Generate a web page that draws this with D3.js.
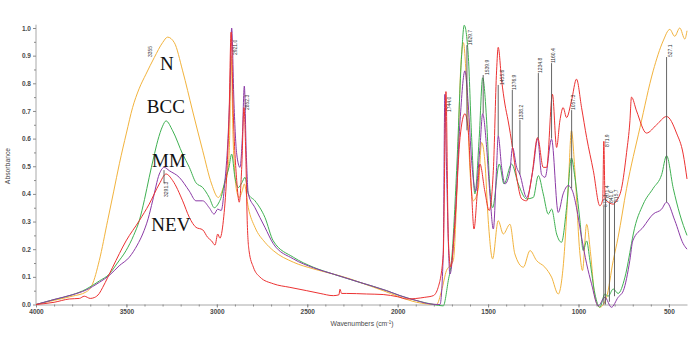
<!DOCTYPE html>
<html>
<head>
<meta charset="utf-8">
<script src="https://cdn.jsdelivr.net/npm/d3@7"></script>
<style>
  body { margin: 0; background: #fff; }
</style>
</head>
<body>
<div id="chart"></div>
<script>
// [wavenumber, absorbance]
const nSpectrum = [
  [4000, 0.0], [3900, 0.015], [3800, 0.03], [3724, 0.045], [3690, 0.07], [3650, 0.159],
  [3604, 0.303], [3570, 0.41], [3539, 0.509], [3500, 0.62], [3466, 0.712], [3430, 0.78],
  [3392, 0.833], [3346, 0.893], [3300, 0.947], [3272, 0.967], [3235, 0.947], [3189, 0.845],
  [3134, 0.70], [3078, 0.556], [3029, 0.436], [2992, 0.387], [2964, 0.423], [2940, 0.48],
  [2930, 0.58], [2921, 0.9], [2910, 0.6], [2890, 0.41], [2876, 0.387], [2860, 0.41],
  [2848, 0.436], [2826, 0.35], [2789, 0.279], [2734, 0.225], [2688, 0.195], [2577, 0.153],
  [2467, 0.129], [2356, 0.11], [2264, 0.093], [2209, 0.08], [2080, 0.05], [2000, 0.03],
  [1895, 0.008], [1785, 0.0], [1757, 0.05], [1730, 0.123], [1711, 0.14], [1692, 0.16],
  [1674, 0.38], [1652, 0.845], [1637, 0.947], [1618, 0.785], [1600, 0.484], [1582, 0.375],
  [1554, 0.42], [1536, 0.586], [1518, 0.52], [1499, 0.303], [1475, 0.165], [1444, 0.303],
  [1416, 0.255], [1379, 0.29], [1352, 0.183], [1305, 0.135], [1268, 0.195], [1232, 0.159],
  [1186, 0.135], [1149, 0.099], [1112, 0.038], [1085, 0.135], [1057, 0.42], [1039, 0.628],
  [1020, 0.484], [992, 0.183], [978, 0.123], [955, 0.29], [933, 0.183], [909, 0.026],
  [882, -0.01], [845, 0.026], [808, 0.159], [781, 0.243], [734, 0.42], [660, 0.64],
  [587, 0.845], [532, 0.953], [495, 0.995], [468, 0.97], [440, 1.0], [412, 0.96], [400, 0.99]
];

const bccSpectrum = [
  [4000, 0.0], [3900, 0.018], [3800, 0.035], [3724, 0.055], [3650, 0.085], [3595, 0.11],
  [3550, 0.15], [3502, 0.195], [3460, 0.25], [3429, 0.303], [3400, 0.38], [3374, 0.46],
  [3350, 0.53], [3327, 0.592], [3300, 0.645], [3281, 0.664], [3244, 0.628], [3189, 0.544],
  [3152, 0.496], [3115, 0.44], [3078, 0.423], [3042, 0.387], [3014, 0.35], [2990, 0.367],
  [2975, 0.39], [2955, 0.448], [2933, 0.496], [2918, 0.544], [2900, 0.46], [2881, 0.423],
  [2862, 0.44], [2844, 0.46], [2826, 0.40], [2789, 0.375], [2734, 0.315], [2688, 0.23],
  [2577, 0.171], [2467, 0.135], [2356, 0.11], [2209, 0.08], [2061, 0.05], [1987, 0.032],
  [1900, 0.015], [1800, 0.0], [1748, -0.005], [1720, 0.087], [1702, 0.159], [1674, 0.484],
  [1646, 0.905], [1632, 1.01], [1610, 0.905], [1591, 0.604], [1573, 0.40], [1549, 0.604],
  [1530, 0.82], [1508, 0.664], [1490, 0.42], [1475, 0.35], [1438, 0.508], [1412, 0.436],
  [1370, 0.508], [1333, 0.436], [1287, 0.382], [1250, 0.387], [1222, 0.466], [1195, 0.40],
  [1167, 0.327], [1149, 0.345], [1121, 0.255], [1094, 0.225], [1066, 0.35], [1039, 0.53],
  [1020, 0.46], [992, 0.303], [974, 0.195], [955, 0.23], [937, 0.159], [909, 0.038],
  [882, -0.01], [854, 0.038], [836, 0.03], [808, 0.056], [781, 0.04], [743, 0.099],
  [707, 0.22], [697, 0.255], [642, 0.363], [587, 0.42], [540, 0.47], [513, 0.538],
  [476, 0.42], [440, 0.327], [400, 0.25]
];

const mmSpectrum = [
  [4000, 0.0], [3900, 0.018], [3800, 0.035], [3724, 0.052], [3650, 0.08], [3595, 0.105],
  [3540, 0.14], [3484, 0.171], [3440, 0.215], [3410, 0.255], [3380, 0.31], [3355, 0.375],
  [3318, 0.472], [3291, 0.496], [3263, 0.484], [3208, 0.46], [3152, 0.41], [3115, 0.375],
  [3078, 0.375], [3042, 0.35], [3015, 0.327], [2995, 0.345], [2976, 0.34], [2955, 0.448],
  [2940, 0.58], [2927, 0.785], [2918, 1.0], [2905, 0.725], [2890, 0.544], [2872, 0.496],
  [2859, 0.604], [2848, 0.79], [2837, 0.544], [2826, 0.40], [2789, 0.35], [2734, 0.279],
  [2688, 0.22], [2577, 0.165], [2467, 0.133], [2356, 0.11], [2209, 0.08], [2061, 0.05],
  [1987, 0.032], [1900, 0.015], [1820, 0.002], [1766, 0.0], [1748, 0.18], [1739, 0.76],
  [1730, 0.5], [1711, 0.11], [1683, 0.303], [1655, 0.664], [1628, 0.845], [1610, 0.725],
  [1591, 0.52], [1569, 0.41], [1545, 0.568], [1530, 0.69], [1508, 0.568], [1490, 0.40],
  [1471, 0.273], [1453, 0.496], [1444, 0.61], [1425, 0.496], [1407, 0.436], [1379, 0.484],
  [1365, 0.568], [1342, 0.496], [1324, 0.47], [1287, 0.387], [1250, 0.496], [1226, 0.60],
  [1204, 0.47], [1185, 0.46], [1149, 0.598], [1112, 0.333], [1085, 0.40], [1057, 0.43],
  [1033, 0.41], [1011, 0.35], [983, 0.243], [955, 0.147], [928, 0.075], [891, -0.005],
  [854, 0.026], [818, -0.01], [781, 0.026], [752, 0.05], [716, 0.16], [700, 0.23],
  [642, 0.28], [587, 0.327], [540, 0.345], [513, 0.37], [467, 0.303], [421, 0.22], [400, 0.2]
];

const nevSpectrum = [
  [4000, 0.0], [3900, 0.008], [3816, 0.02], [3760, 0.022], [3733, 0.03], [3700, 0.022],
  [3678, 0.025], [3650, 0.04], [3631, 0.062], [3576, 0.135], [3502, 0.23], [3429, 0.303],
  [3374, 0.363], [3318, 0.436], [3281, 0.472], [3244, 0.448], [3189, 0.375], [3152, 0.315],
  [3115, 0.279], [3078, 0.27], [3051, 0.243], [3029, 0.23], [3010, 0.215], [2995, 0.255],
  [2983, 0.24], [2964, 0.303], [2946, 0.46], [2933, 0.664], [2921, 0.985], [2909, 0.69],
  [2890, 0.448], [2876, 0.37], [2862, 0.50], [2850, 0.712], [2840, 0.544], [2832, 0.303],
  [2822, 0.195], [2798, 0.135], [2761, 0.099], [2688, 0.075], [2596, 0.062], [2503, 0.05],
  [2429, 0.04], [2356, 0.032], [2325, 0.035], [2319, 0.055], [2310, 0.04], [2282, 0.04],
  [2172, 0.038], [2080, 0.036], [2000, 0.028], [1950, 0.02], [1850, 0.026], [1803, 0.032],
  [1776, 0.062], [1748, 0.18], [1733, 0.77], [1720, 0.24], [1707, 0.135], [1683, 0.30],
  [1655, 0.604], [1628, 0.69], [1610, 0.63], [1591, 0.40], [1578, 0.273], [1560, 0.40],
  [1545, 0.508], [1518, 0.41], [1494, 0.34], [1471, 0.484], [1453, 0.845], [1444, 0.93],
  [1425, 0.81], [1407, 0.725], [1389, 0.664], [1365, 0.568], [1342, 0.46], [1314, 0.382],
  [1287, 0.375], [1259, 0.46], [1226, 0.604], [1195, 0.496], [1176, 0.496], [1144, 0.76],
  [1121, 0.568], [1103, 0.664], [1085, 0.712], [1066, 0.676], [1039, 0.736], [1011, 0.815],
  [983, 0.712], [955, 0.604], [918, 0.484], [882, 0.357], [866, 0.38], [860, 0.59],
  [853, 0.38], [845, 0.375], [808, 0.363], [790, 0.375], [762, 0.42], [734, 0.55],
  [716, 0.66], [707, 0.75], [679, 0.70], [624, 0.62], [568, 0.65], [513, 0.68],
  [458, 0.62], [421, 0.544], [400, 0.454]
];

const seriesNames = ["N", "BCC", "MM", "NEV"];
const seriesLabelWn = [3277, 3282, 3265, 3254];
const seriesLabelAbs = [0.848, 0.691, 0.498, 0.266];

const xTicks = [4000, 3500, 3000, 2500, 2000, 1500, 1000, 500];
const yTicks = [0, 0.1, 0.2, 0.3, 0.4, 0.5, 0.6, 0.7, 0.8, 0.9, 1.0];

// peak annotations: label, text wavenumber, text bottom absorbance, line wavenumber, line start/end
const peakLabels = ["3355", "2921.0", "2852.3", "3291.3", "1744.0", "1629.7", "1539.9", "1455.6",
  "1376.9", "1338.2", "1234.8", "1160.4", "1057.3", "871.9", "872.1", "871.4", "841.0", "815.7", "527.1"];
const peakTextWn = [3367, 2900, 2832, 3281, 1715, 1600, 1508, 1425, 1357, 1318, 1213, 1140, 1029,
  845, 854, 841, 818, 793, 495];
const peakTextAbs = [0.895, 0.902, 0.703, 0.389, 0.696, 0.938, 0.83, 0.794, 0.776, 0.667, 0.837,
  0.873, 0.703, 0.57, 0.353, 0.385, 0.367, 0.371, 0.895];
const peakLineWn = [null, null, null, 3292, null, 1617, 1527, 1444, 1366, 1324, 1222, 1149, 1038,
  null, 860, 851, 829, 801, 513];
const peakLineFrom = [null, null, null, 0.486, null, 0.938, 0.83, 0.794, 0.776, 0.667, 0.837, 0.873,
  0.703, null, 0.353, 0.385, 0.367, 0.371, 0.895];
const peakLineTo = [null, null, null, 0.439, null, 0.63, 0.69, 0.61, 0.57, 0.47, 0.60, 0.60, 0.42,
  null, 0.0, 0.0, 0.01, 0.03, 0.37];

const colors = { N: "#f2b33d", BCC: "#3fb152", MM: "#8b3aa6", NEV: "#ec3232" };
const spectra = [nSpectrum, bccSpectrum, mmSpectrum, nevSpectrum];

const width = 699, height = 344;

const svg = d3.select("#chart")
  .append("svg")
  .attr("width", width)
  .attr("height", height)
  .style("font-family", "'Liberation Sans', Arial, sans-serif");

const x = d3.scaleLinear().domain([4000, 400]).range([36, 687]);
const y = d3.scaleLinear().domain([0, 1]).range([304.5, 28]);

// x axis
svg.append("g")
  .attr("transform", `translate(0,${y(0)})`)
  .call(d3.axisBottom(x).tickValues(xTicks).tickFormat(d3.format("d"))
    .tickSize(3).tickSizeOuter(0).tickPadding(2));

svg.append("g")
  .attr("transform", `translate(0,${y(0)})`)
  .call(d3.axisBottom(x).tickValues(d3.range(3900, 400, -100)).tickSize(2).tickFormat(""))
  .call((g) => g.select(".domain").remove());

// y axis
const yAxisG = svg.append("g")
  .attr("transform", `translate(${x(4000)},0)`)
  .call(d3.axisLeft(y).tickValues(yTicks).tickFormat(d3.format(".1f"))
    .tickSize(3).tickSizeOuter(0).tickPadding(2));

svg.append("g")
  .attr("transform", `translate(${x(4000)},0)`)
  .call(d3.axisLeft(y).tickValues(d3.range(0.05, 1.0, 0.1)).tickSize(2).tickFormat(""))
  .call((g) => g.select(".domain").remove());

yAxisG.select(".domain").attr("d", `M0,${y(0)}V${y(1.012)}`);

svg.selectAll(".domain").attr("stroke", "#a8a8a8");
svg.selectAll(".tick line").attr("stroke", "#8a8a8a");
svg.selectAll(".tick text")
  .attr("fill", "#4a4a4a")
  .style("font-size", "6.5px")
  .style("font-weight", "bold");

// axis titles
const xTitle = svg.append("text")
  .attr("x", 362)
  .attr("y", 326)
  .attr("text-anchor", "middle")
  .attr("fill", "#4a4a4a")
  .style("font-size", "6.8px");
xTitle.append("tspan").text("Wavenumbers (cm");
xTitle.append("tspan").attr("dy", -2.5).style("font-size", "4.5px").text("-1");
xTitle.append("tspan").attr("dy", 2.5).text(")");

svg.append("text")
  .attr("transform", "translate(7,166) rotate(-90)")
  .attr("text-anchor", "middle")
  .attr("dominant-baseline", "central")
  .attr("fill", "#4a4a4a")
  .style("font-size", "6.8px")
  .text("Absorbance");

// spectra
const line = d3.line()
  .x((d) => x(d[0]))
  .y((d) => y(d[1]))
  .curve(d3.curveMonotoneX);

spectra.forEach((data, i) => {
  svg.append("path")
    .datum(data)
    .attr("fill", "none")
    .attr("stroke", colors[seriesNames[i]])
    .attr("stroke-width", 1)
    .attr("d", line);
});

// peak markers
peakLabels.forEach((label, i) => {
  if (peakLineWn[i] !== null) {
    svg.append("line")
      .attr("x1", x(peakLineWn[i]))
      .attr("x2", x(peakLineWn[i]))
      .attr("y1", y(peakLineFrom[i]))
      .attr("y2", y(peakLineTo[i]))
      .attr("stroke", "#555")
      .attr("stroke-width", 0.9);
  }
  svg.append("text")
    .attr("transform", `translate(${x(peakTextWn[i])},${y(peakTextAbs[i])}) rotate(-90)`)
    .attr("text-anchor", "start")
    .attr("dominant-baseline", "central")
    .attr("fill", "#333")
    .style("font-size", "5px")
    .text(label);
});

// sample names
seriesNames.forEach((name, i) => {
  svg.append("text")
    .attr("x", x(seriesLabelWn[i]))
    .attr("y", y(seriesLabelAbs[i]))
    .attr("text-anchor", "middle")
    .attr("fill", "#111")
    .style("font-family", "'Liberation Serif', 'Times New Roman', serif")
    .style("font-size", "19px")
    .text(name);
});
</script>
</body>
</html>
